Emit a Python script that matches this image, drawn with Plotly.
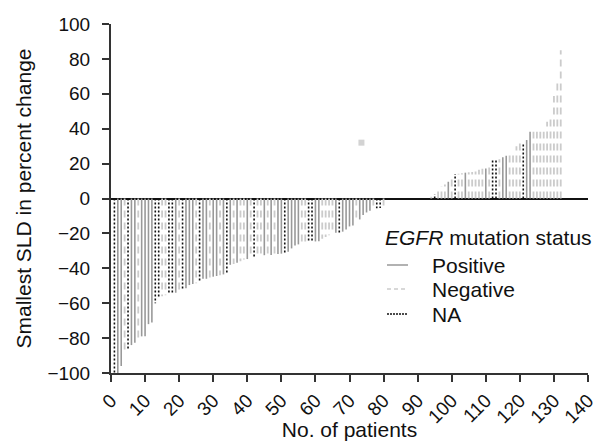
import plotly.graph_objects as go

# EGFR status codes: P = Positive, N = Negative, A = NA
values = [
    -100, -100, -96, -87, -86, -84, -82.6, -80, -79, -79,
    -72, -71, -60, -57, -56, -55.5, -55, -54.5, -54, -53,
    -52.5, -51.5, -49.6, -49, -48.5, -47.7, -46, -46, -45.5, -44.8,
    -44.4, -44, -43.5, -42.5, -38, -37.5, -36.8, -36, -35, -34.7,
    -34, -33.5, -33.3, -33, -32.5, -32.5, -32.4, -32, -31.8, -31.6,
    -31.5, -30.5, -28.6, -27, -26.3, -25.8, -25, -25, -25, -24.6,
    -24.5, -23, -22, -21, -20, -19.6, -19.5, -19, -17.7, -16,
    -15.5, -13.5, -12, -9.5, -8, -7, -6, -5.6, -5.5, -4,
    0, 0, 0, 0, 0, 0, 0, 0, 0, 0,
    0, 0, 0, 1, 2.5, 4.8, 7, 8, 9.6, 11.7,
    14, 14.2, 14.5, 14.8, 15, 15.2, 15.5, 16.5, 17, 17.2,
    18, 22, 22.3, 22.5, 23.6, 24.5, 24.8, 25, 30, 32,
    32, 33.5, 38.3, 38.3, 38.3, 38.3, 38.3, 44, 46, 58.7,
    66, 85,
]
status = list(
    "APPNAPPNPP"
    "PPAANNAAPN"
    "APPPNAPPNP"
    "PNPAPNPNNP"
    "NANNPNPNPP"
    "APPPPNNAAP"
    "PNNNNPAPPP"
    "PNPPPPNAAN"
    "NNNNNNNNNN"
    "NNNNANNNPN"
    "ANNPNNNNNP"
    "NAANPPNNNN"
    "APPNNNNNNN"
    "NN"
)
patients = list(range(1, len(values) + 1))

artifact_x = [73.5]
artifact_y = [32]

x_ticks = list(range(0, 141, 10))
y_ticks = list(range(-100, 101, 20))

legend_title = "<i>EGFR</i> mutation status"
legend_names = ["Positive", "Negative", "NA"]
legend_codes = ["P", "N", "A"]

styles = {
    "P": dict(color="#999999", dash="solid", width=1.6),
    "N": dict(color="#cbcbcb", dash="7px,5px", width=1.8),
    "A": dict(color="#111111", dash="2px,2px", width=1.6),
}

fig = go.Figure()
for code, name in zip(legend_codes, legend_names):
    xs, ys = [], []
    for p, v, s in zip(patients, values, status):
        if s == code:
            xs += [p, p, None]
            ys += [0, v, None]
    fig.add_trace(go.Scatter(
        x=xs, y=ys, mode="lines", name=name, showlegend=False,
        line=styles[code], connectgaps=False,
    ))

fig.add_trace(go.Scatter(
    x=artifact_x, y=artifact_y, mode="markers", showlegend=False,
    marker=dict(symbol="square", size=6, color="#d3d3d3"),
))

# Manual legend (paper coordinates)
L, R, T, B = 111, 588, 24, 373
def px(x):
    return (x - L) / (R - L)
def py(y):
    return (B - y) / (B - T)

legend_rows_y = [265, 289, 314]
fig.add_annotation(
    x=px(384), y=py(237), xref="paper", yref="paper", xanchor="left", yanchor="middle",
    text=legend_title, showarrow=False, font=dict(size=21), borderpad=0,
)
legend_dash_samples = {"P": "solid", "N": "4px,3px", "A": "2px,1px"}
for code, name, yy in zip(legend_codes, legend_names, legend_rows_y):
    st = styles[code]
    fig.add_shape(
        type="line", xref="paper", yref="paper",
        x0=px(387), x1=px(408), y0=py(yy), y1=py(yy),
        line=dict(color=st["color"], width=1.5, dash=legend_dash_samples[code]),
    )
    fig.add_annotation(
        x=px(431), y=py(yy), xref="paper", yref="paper", xanchor="left", yanchor="middle",
        text=name, showarrow=False, font=dict(size=21), borderpad=0,
    )

font_family = "Liberation Sans, Arial, sans-serif"
fig.update_layout(
    width=598, height=441,
    margin=dict(l=L, r=598 - R, t=T, b=441 - B),
    paper_bgcolor="white", plot_bgcolor="white",
    font=dict(family=font_family, size=21, color="#111"),
    showlegend=False,
)
fig.update_xaxes(
    range=[0, 140], tickvals=x_ticks, ticktext=[str(t) for t in x_ticks],
    tickangle=-45, ticks="outside", ticklen=7, tickwidth=1.5, tickcolor="#333",
    showline=True, linecolor="#333", linewidth=2, showgrid=False, zeroline=False,
    automargin=False, ticklabeloverflow="allow",
    title=dict(text="No. of patients", font=dict(size=21), standoff=5),
    tickfont=dict(size=19),
)
fig.update_yaxes(
    range=[-100, 100], tickvals=y_ticks,
    ticks="outside", ticklen=7, tickwidth=1.5, tickcolor="#333",
    showline=True, linecolor="#333", linewidth=2, showgrid=False,
    zeroline=True, zerolinecolor="#111", zerolinewidth=1.5,
    automargin=False, ticklabelstandoff=8,
    title=dict(text="Smallest SLD in percent change", font=dict(size=21), standoff=10),
    tickfont=dict(size=19),
)

fig.write_html("out.html")
